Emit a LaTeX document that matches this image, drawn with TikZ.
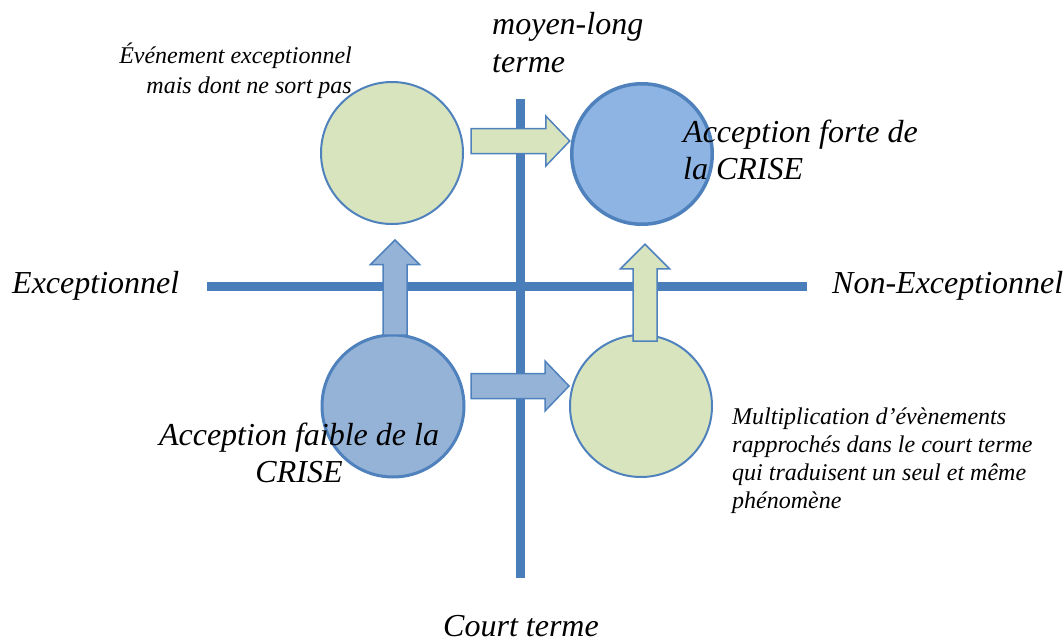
\documentclass[tikz,border=0pt]{standalone}
\usepackage{fontspec}
\setmainfont{Liberation Serif}
\usetikzlibrary{calc}
\definecolor{axisblue}{HTML}{4A7EBB}
\definecolor{edgeblue}{HTML}{4F81BD}
\definecolor{lightgreen}{HTML}{D7E4BD}
\definecolor{midblue}{HTML}{95B3D7}
\definecolor{strongblue}{HTML}{8EB4E3}
\newcommand\mkRightBlock[3]{%
  \filldraw[blockarrow, fill=#3] ($(#1)+(0,-12.5)$) -- ($(#2)+(-24,-12.5)$) -- ($(#2)+(-24,-25)$) -- (#2) -- ($(#2)+(-24,25)$) -- ($(#2)+(-24,12.5)$) -- ($(#1)+(0,12.5)$) -- cycle;}
\newcommand\mkUpBlock[3]{%
  \filldraw[blockarrow, fill=#3] ($(#1)+(-12,0)$) -- ($(#2)+(-12,24.5)$) -- ($(#2)+(-24.5,24.5)$) -- (#2) -- ($(#2)+(24.5,24.5)$) -- ($(#2)+(12,24.5)$) -- ($(#1)+(12,0)$) -- cycle;}
\begin{document}
\begin{tikzpicture}[x=1pt,y=-1pt,
  bubble/.style={circle, draw=edgeblue, inner sep=0pt, outer sep=0pt, minimum size=142pt},
  axisline/.style={draw=axisblue, line width=8.5pt},
  blockarrow/.style={draw=edgeblue, line width=1.5pt, line join=miter},
  bigtext/.style={font=\fontsize{32}{37}\selectfont\itshape, inner sep=0pt},
  smalltext/.style={font=\fontsize{24}{27.7}\selectfont\itshape, inner sep=0pt}]
\useasboundingbox (0,0) rectangle (1063,642);
% axes
\coordinate (vtop) at (520.5,99);
\coordinate (vbot) at (520.5,578);
\coordinate (hl) at (207,286.5);
\coordinate (hr) at (807,286.5);
\draw[axisline] (vtop) -- (vbot);
\draw[axisline] (hl) -- (hr);
% circles
\node[bubble, fill=lightgreen, line width=2pt] (tl) at (392,153) {};
\node[bubble, fill=strongblue, line width=3.5pt, minimum size=140.5pt] (tr) at (642,154) {};
\node[bubble, fill=midblue, line width=3pt] (bl) at (393,406) {};
\node[bubble, fill=lightgreen, line width=2pt] (br) at (641,406) {};
% block arrows
\coordinate (a1s) at ($(tl.east)+(8,-12)$);
\coordinate (a1e) at ($(tr.west)+(-2,-13)$);
\coordinate (a2s) at ($(bl.east)+(7,-20)$);
\coordinate (a2e) at ($(br.west)+(-1,-20)$);
\coordinate (a3s) at ($(bl.north)+(2,0)$);
\coordinate (a3e) at ($(tl.south)+(3,16)$);
\coordinate (a4s) at ($(br.north)+(4,6)$);
\coordinate (a4e) at ($(tr.south)+(3,20)$);
\mkRightBlock{a1s}{a1e}{lightgreen}
\mkRightBlock{a2s}{a2e}{midblue}
\mkUpBlock{a3s}{a3e}{midblue}
\mkUpBlock{a4s}{a4e}{lightgreen}
% texts (base anchor of a multi-line node = last line's baseline)
\node[bigtext, font=\fontsize{32}{38}\selectfont\itshape, anchor=base west, align=left] (mlt) at (492,73) {moyen-long\\terme};
\node[smalltext, font=\fontsize{24}{30}\selectfont\itshape, anchor=base east, align=right] (evt) at (352,93) {Événement exceptionnel\\mais dont ne sort pas};
\node[bigtext, anchor=base west] (exc) at (12,293) {Exceptionnel};
\node[bigtext, anchor=base west] (nonexc) at (832,293) {Non-Exceptionnel};
\node[bigtext, anchor=base] (ct) at (521,636) {Court terme};
\node[bigtext, anchor=base west, align=left] (forte) at (683,179) {Acception forte de\\la CRISE};
\node[bigtext, anchor=base, align=center] (faible) at (299,482) {Acception faible de la\\CRISE};
\node[smalltext, anchor=base west, align=left] (multi) at (732,508) {Multiplication d’évènements\\rapprochés dans le court terme\\qui traduisent un seul et même\\phénomène};
\end{tikzpicture}
\end{document}
